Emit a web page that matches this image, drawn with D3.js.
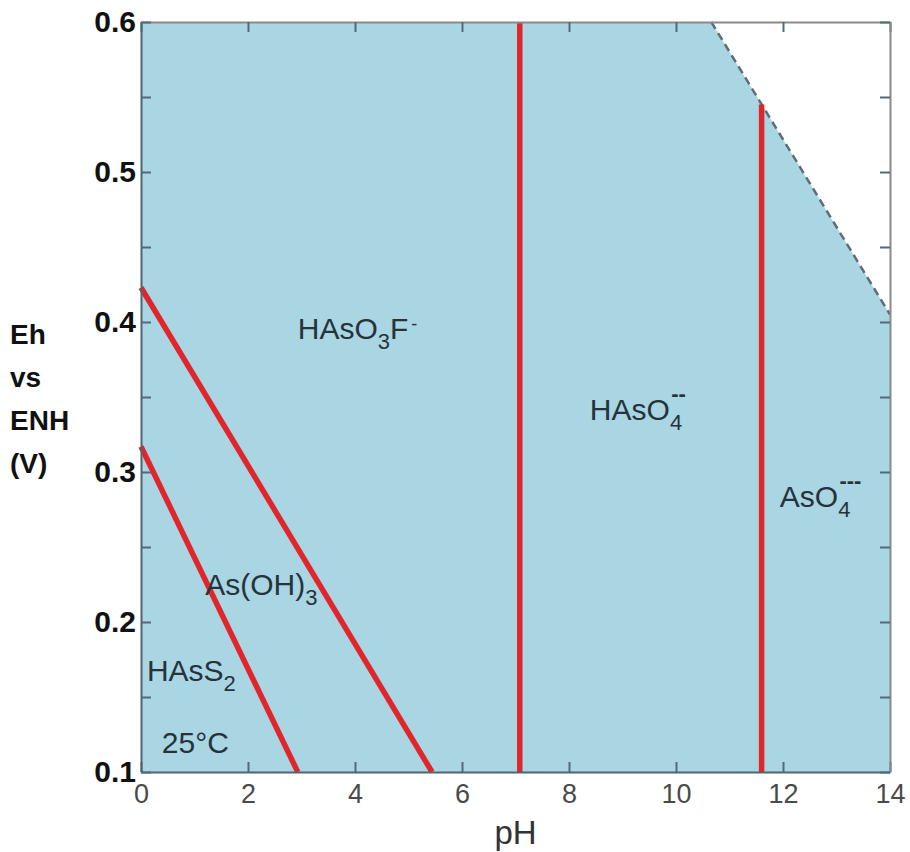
<!DOCTYPE html>
<html>
<head>
<meta charset="utf-8">
<script src="https://cdn.jsdelivr.net/npm/d3@7"></script>
<style>
  body { margin: 0; background: #fff; }
  svg { display: block; }
</style>
</head>
<body>
<div id="chart"></div>
<script>
// axis ranges and ticks
var phDomain = [0, 14];
var ehDomain = [0.1, 0.6];
var phTicks = [0, 2, 4, 6, 8, 10, 12, 14];
var ehTicks = [0.1, 0.15, 0.2, 0.25, 0.3, 0.35, 0.4, 0.45, 0.5, 0.55, 0.6];
var ehLabelled = [0.1, 0.2, 0.3, 0.4, 0.5, 0.6];

// upper stability limit of water (dashed), pH / Eh
var waterLimit = [[10.66, 0.6], [14, 0.405]];

// red boundaries between the species fields
var boundaries = [
  [[0, 0.317], [2.93, 0.1]],
  [[0, 0.423], [5.44, 0.1]],
  [[7.08, 0.1], [7.08, 0.6]],
  [[11.6, 0.1], [11.6, 0.545]]
];

// field names, anchored at their left baseline (pH, Eh)
var speciesLabels = [
  { parts: [["HAsO", ""], ["3", "sub"], ["F", ""], ["-", "sup"]], ph: 2.93, eh: 0.389 },
  { parts: [["As(OH)", ""], ["3", "sub"]], ph: 1.2, eh: 0.218 },
  { parts: [["HAsS", ""], ["2", "sub"]], ph: 0.11, eh: 0.161 },
  { parts: [["HAsO", ""], ["4", "sub"], ["--", "stack"]], ph: 8.39, eh: 0.335 },
  { parts: [["AsO", ""], ["4", "sub"], ["---", "stack"]], ph: 11.94, eh: 0.277 },
  { parts: [["25°C", ""]], ph: 0.39, eh: 0.113 }
];

var yTitle = ["Eh", "vs", "ENH", "(V)"];
var xTitle = "pH";

var margin = {top: 22, right: 20, bottom: 80, left: 141}
  , width = 910
  , height = 852
  , plotW = 749
  , plotH = 750;

var svg = d3.select("#chart").append("svg")
  .attr("width", width)
  .attr("height", height);

var x = d3.scaleLinear().domain(phDomain).range([0, plotW]);
var y = d3.scaleLinear().domain(ehDomain).range([plotH, 0]);

var g = svg.append("g")
  .attr("transform", "translate(" + margin.left + "," + margin.top + ")");

// blue field under the water limit
var fieldPoly = [[phDomain[0], ehDomain[0]], [phDomain[0], ehDomain[1]]]
  .concat(waterLimit)
  .concat([[phDomain[1], ehDomain[0]]]);

var line = d3.line()
  .x(function(d) { return x(d[0]); })
  .y(function(d) { return y(d[1]); });

g.append("path")
  .attr("d", line(fieldPoly) + "Z")
  .attr("fill", "#aad5e3");

g.append("path")
  .attr("d", line(waterLimit))
  .attr("fill", "none")
  .attr("stroke", "#5d6e76")
  .attr("stroke-width", 2.5)
  .attr("stroke-dasharray", "8,5");

g.selectAll(".boundary")
  .data(boundaries)
  .enter().append("path")
  .attr("class", "boundary")
  .attr("d", line)
  .attr("fill", "none")
  .attr("stroke", "#e1262b")
  .attr("stroke-width", 5.5);

// axes, ticks pointing inward
var tickColor = "#4f6a78";

var axBottom = g.append("g")
  .attr("transform", "translate(0," + plotH + ")")
  .call(d3.axisBottom(x).tickValues(phTicks).tickSizeInner(-10).tickSizeOuter(0).tickPadding(12));
axBottom.selectAll("text")
  .attr("font-family", "Liberation Sans, Arial, sans-serif")
  .attr("font-size", 27)
  .attr("fill", "#4a4a4a");

var axTop = g.append("g")
  .call(d3.axisTop(x).tickValues(phTicks).tickSizeInner(-10).tickSizeOuter(0).tickFormat(""));

var axLeft = g.append("g")
  .call(d3.axisLeft(y).tickValues(ehTicks).tickSizeInner(-10).tickSizeOuter(0).tickPadding(5)
    .tickFormat(function(d) { return ehLabelled.indexOf(d) >= 0 ? d3.format(".1f")(d) : ""; }));
axLeft.selectAll("text")
  .attr("font-family", "Liberation Sans, Arial, sans-serif")
  .attr("font-weight", "bold")
  .attr("font-size", 30)
  .attr("fill", "#111");

var axRight = g.append("g")
  .attr("transform", "translate(" + plotW + ",0)")
  .call(d3.axisRight(y).tickValues(ehTicks).tickSizeInner(-10).tickSizeOuter(0).tickFormat(""));

[axBottom, axTop, axLeft, axRight].forEach(function(a) {
  a.selectAll(".tick line").attr("stroke", tickColor).attr("stroke-width", 2);
});
axBottom.select(".domain").attr("stroke", "#4f6570").attr("stroke-width", 2);
axLeft.select(".domain").attr("stroke", "#4f6570").attr("stroke-width", 2);
axTop.select(".domain").attr("stroke", "#8a8a8a").attr("stroke-width", 2);
axRight.select(".domain").attr("stroke", "#8a8a8a").attr("stroke-width", 2);

// species names with sub/superscripts
speciesLabels.forEach(function(lab) {
  var t = g.append("text")
    .attr("x", x(lab.ph))
    .attr("y", y(lab.eh))
    .attr("font-family", "Liberation Sans, Arial, sans-serif")
    .attr("font-size", 30)
    .attr("fill", "#25343b");
  var shift = 0;
  lab.parts.forEach(function(p) {
    var s = t.append("tspan").text(p[0]);
    if (p[1] === "sub") {
      s.attr("font-size", 22).attr("dy", 10 - shift);
      shift = 10;
    } else if (p[1] === "sup") {
      s.attr("font-size", 18).attr("dx", 3).attr("dy", -9 - shift);
      shift = -9;
    } else if (p[1] === "stack") {
      s.attr("font-size", 22).attr("font-weight", "bold").attr("dx", -11).attr("dy", -19 - shift);
      shift = -19;
    } else {
      s.attr("dy", -shift);
      shift = 0;
    }
  });
});

// y title, stacked words on the left
svg.append("g").selectAll("text")
  .data(yTitle)
  .enter().append("text")
  .attr("x", 10)
  .attr("y", function(d, i) { return 344 + i * 43; })
  .attr("font-family", "Liberation Sans, Arial, sans-serif")
  .attr("font-weight", "bold")
  .attr("font-size", 28)
  .attr("fill", "#111")
  .text(function(d) { return d; });

svg.append("text")
  .attr("x", margin.left + x(7))
  .attr("y", 844)
  .attr("text-anchor", "middle")
  .attr("font-family", "Liberation Sans, Arial, sans-serif")
  .attr("font-size", 33)
  .attr("fill", "#333")
  .text(xTitle);
</script>
</body>
</html>
